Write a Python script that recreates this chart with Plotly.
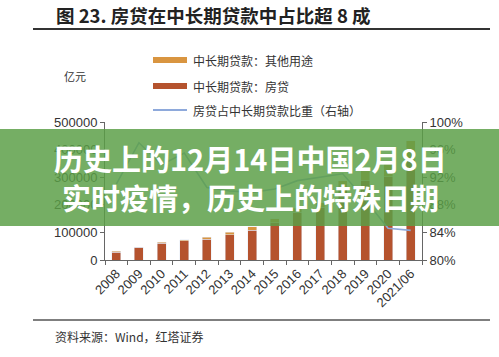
import plotly.graph_objects as go

categories = ["2008", "2009", "2010", "2011", "2012", "2013", "2014", "2015",
              "2016", "2017", "2018", "2019", "2020", "2021/06"]
mortgage = [28700, 45600, 60100, 70300, 75400, 91300, 108300, 134200,
            172400, 191000, 258600, 287000, 301300, 364300]
other_use = [2800, 1400, 4000, 3300, 7900, 10100, 12300, 14400,
             16000, 16600, 28700, 36600, 54900, 67900]
share_pct = [91.0, 97.0, 93.8, 95.5, 90.5, 90.0, 89.8, 90.3,
             91.5, 92.0, 92.5, 88.7, 84.6, 84.3]
left_ticks = [0, 100000, 200000, 300000, 400000, 500000]
right_ticks = [80, 84, 88, 92, 96, 100]

W, H = 499, 357
L, R, T, B = 105, 422, 122, 260
PW, PH = R - L, B - T


def px(x):
    return (x - L) / PW


def py(y):
    return (B - y) / PH


FONT = "Liberation Sans, Noto Sans CJK SC, sans-serif"
CJK = "Noto Sans CJK SC, sans-serif"

fig = go.Figure()
fig.add_bar(x=categories, y=mortgage, name="中长期贷款：房贷",
            marker_color="#B5532E", showlegend=False)
fig.add_bar(x=categories, y=other_use, name="中长期贷款：其他用途",
            marker_color="#D99540", showlegend=False)
fig.add_scatter(x=categories, y=share_pct, yaxis="y2", mode="lines",
                name="房贷占中长期贷款比重（右轴）",
                line=dict(color="#8EA9DB", width=1.6), showlegend=False)

shapes = []
annotations = []

# title and rules
annotations.append(dict(text="<b>图 23. 房贷在中长期贷款中占比超 8 成</b>", x=px(55), y=py(15),
                        xref="paper", yref="paper", xanchor="left", yanchor="middle",
                        showarrow=False, borderpad=0,
                        font=dict(family=CJK, size=18.5, color="#222")))
shapes.append(dict(type="line", xref="paper", yref="paper", x0=px(33), x1=px(490),
                   y0=py(29), y1=py(29), line=dict(color="#333", width=2)))
shapes.append(dict(type="line", xref="paper", yref="paper", x0=px(33), x1=px(490),
                   y0=py(320), y1=py(320), line=dict(color="#555", width=1.5)))
annotations.append(dict(text="资料来源：Wind，红塔证券", x=px(54), y=py(336),
                        xref="paper", yref="paper", xanchor="left", yanchor="middle",
                        showarrow=False, borderpad=0,
                        font=dict(family=CJK, size=12, color="#333")))
annotations.append(dict(text="亿元", x=px(63), y=py(76),
                        xref="paper", yref="paper", xanchor="left", yanchor="middle",
                        showarrow=False, borderpad=0,
                        font=dict(family=CJK, size=11, color="#333")))

# manual legend
legend_items = [("中长期贷款：其他用途", "#D99540", 6, 60),
                ("中长期贷款：房贷", "#B5532E", 6, 86),
                ("房贷占中长期贷款比重（右轴）", "#8EA9DB", 2, 110)]
for label, color, width, yy in legend_items:
    shapes.append(dict(type="line", xref="paper", yref="paper", x0=px(153), x1=px(187),
                       y0=py(yy), y1=py(yy), line=dict(color=color, width=width)))
    annotations.append(dict(text=label, x=px(192), y=py(yy), xref="paper", yref="paper",
                            xanchor="left", yanchor="middle", showarrow=False, borderpad=0,
                            font=dict(family=CJK, size=12, color="#333")))

# green overlay band
shapes.append(dict(type="rect", xref="paper", yref="paper", x0=px(0), x1=px(499),
                   y0=py(226), y1=py(129), fillcolor="rgba(90,158,70,0.84)",
                   line=dict(width=0), layer="above"))
annotations.append(dict(text="<b>历史上的12月14日中国2月8日</b>", x=px(250), y=py(158),
                        xref="paper", yref="paper", xanchor="center", yanchor="middle",
                        showarrow=False, borderpad=0,
                        font=dict(family=CJK, size=29, color="white")))
annotations.append(dict(text="<b>实时疫情，历史上的特殊日期</b>", x=px(250), y=py(197),
                        xref="paper", yref="paper", xanchor="center", yanchor="middle",
                        showarrow=False, borderpad=0,
                        font=dict(family=CJK, size=29, color="white")))

fig.update_layout(
    width=W, height=H,
    margin=dict(l=L, r=W - R, t=T, b=H - B, pad=0, autoexpand=False),
    paper_bgcolor="white", plot_bgcolor="white",
    barmode="stack", bargap=0.6,
    font=dict(family=FONT, size=12, color="#333"),
    shapes=shapes, annotations=annotations,
    xaxis=dict(type="category", showline=True, linecolor="#666", linewidth=1,
               ticks="outside", tickson="boundaries", ticklen=4, tickcolor="#666",
               tickangle=-45, tickfont=dict(size=13, color="#333"), showgrid=False,
               automargin=False),
    yaxis=dict(range=[0, 500000], tickvals=left_ticks, ticktext=[str(v) for v in left_ticks],
               showline=True, linecolor="#666", linewidth=1, ticks="outside", ticklen=4,
               tickcolor="#666", showgrid=False, zeroline=False, automargin=False,
               tickfont=dict(size=13, color="#333")),
    yaxis2=dict(range=[80, 100], tickvals=right_ticks,
                ticktext=[f"{v}%" for v in right_ticks], overlaying="y", side="right",
                showline=True, linecolor="#666", linewidth=1, ticks="outside", ticklen=4,
                tickcolor="#666", showgrid=False, zeroline=False, automargin=False,
                tickfont=dict(size=13, color="#333")),
)

fig.write_html("out.html", config={"displayModeBar": False},
               post_script="document.body.style.margin='0px';")
